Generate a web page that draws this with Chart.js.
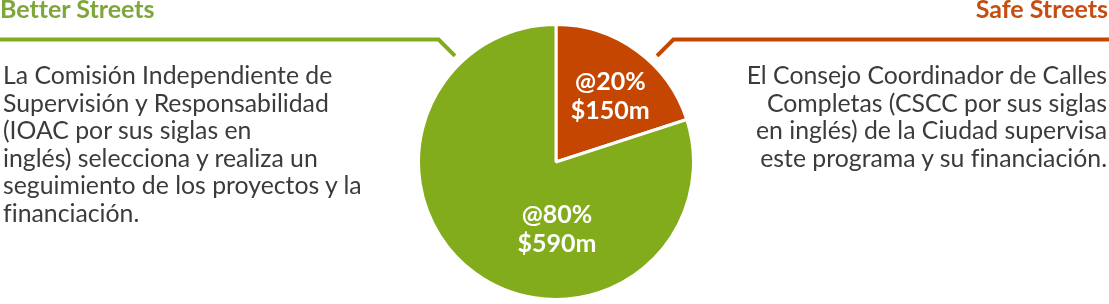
<!DOCTYPE html>
<html><head><meta charset="utf-8">
<script src="https://cdn.jsdelivr.net/npm/chart.js@4.4.1/dist/chart.umd.min.js"></script>
<style>
html,body{margin:0;padding:0;background:#fff;}
#wrap{position:relative;width:1109px;height:304px;overflow:hidden;font-family:Lato,"Open Sans",sans-serif;font-variant-ligatures:none;}
canvas{position:absolute;left:0;top:0;}
.title{position:absolute;top:-5px;font-weight:700;font-size:25px;line-height:26px;white-space:nowrap;}
.para{position:absolute;top:61px;font-size:24.8px;line-height:27.6px;color:#3b3b3b;white-space:nowrap;}
.slice{position:absolute;color:#fff;font-weight:700;font-size:25px;line-height:29px;text-align:center;transform:translate(-50%,-50%);white-space:nowrap;}
</style></head>
<body><div id="wrap"><canvas id="c" width="1109" height="304"></canvas>
<div class="title" id="tLeft" style="left:0px;"></div>
<div class="title" id="tRight" style="right:1px;"></div>
<div class="para" style="left:3px;text-align:left;">La Comisión Independiente de<br>Supervisión y Responsabilidad<br>(IOAC por sus siglas en<br>inglés) selecciona y realiza un<br>seguimiento de los proyectos y la<br>financiación.</div>
<div class="para" style="right:2px;text-align:right;">El Consejo Coordinador de Calles<br>Completas (CSCC por sus siglas<br>en inglés) de la Ciudad supervisa<br>este programa y su financiación.</div>
<div class="slice" id="lab0"></div>
<div class="slice" id="lab1"></div>
</div>
<script>
// Data
const categories = ['Safe Streets', 'Better Streets'];
const shares = [20, 80];          // percent
const amounts = [150, 590];       // $ millions
const sliceColors = ['#c54600', '#83ac1c'];
const titleColors = ['#c64d12', '#7ea63b'];

document.getElementById('tRight').textContent = categories[0];
document.getElementById('tRight').style.color = titleColors[0];
document.getElementById('tLeft').textContent = categories[1];
document.getElementById('tLeft').style.color = titleColors[1];

const connectors = {
  id: 'connectors',
  afterDatasetsDraw(chart) {
    const meta = chart.getDatasetMeta(0);
    const arc = meta.data[0];
    const p = arc.getProps(['x', 'y', 'outerRadius'], true);
    const ctx = chart.ctx;
    const d = p.outerRadius + 9;
    const a = 43.6 * Math.PI / 180;
    const by = 39.5;
    const sides = [{s: 1, color: sliceColors[0], end: chart.width}, {s: -1, color: sliceColors[1], end: 0}];
    ctx.save();
    ctx.lineWidth = 4;
    ctx.lineJoin = 'miter';
    sides.forEach(o => {
      const ex = p.x + o.s * Math.sin(a) * d;
      const ey = p.y - Math.cos(a) * d;
      const bx = ex + o.s * (ey - by);
      ctx.strokeStyle = o.color;
      ctx.beginPath();
      ctx.moveTo(ex, ey);
      ctx.lineTo(bx, by);
      ctx.lineTo(o.end, by);
      ctx.stroke();
    });
    ctx.restore();
  }
};

const chart = new Chart(document.getElementById('c'), {
  type: 'pie',
  data: {
    labels: categories,
    datasets: [{
      data: shares,
      backgroundColor: sliceColors,
      borderColor: '#ffffff',
      borderWidth: 3,
      hoverOffset: 0,
      hoverBorderWidth: 3
    }]
  },
  options: {
    responsive: false,
    animation: false,
    devicePixelRatio: 1,
    events: [],
    layout: {padding: {top: 23, bottom: 3, left: 3, right: 0}},
    plugins: {legend: {display: false}, tooltip: {enabled: false}}
  },
  plugins: [connectors]
});

// slice labels positioned from arc geometry
const meta = chart.getDatasetMeta(0);
meta.data.forEach((arc, i) => {
  const p = arc.getProps(['x', 'y', 'startAngle', 'endAngle', 'outerRadius'], true);
  let lx, ly;
  if (i === 0) {
    const mid = (p.startAngle + p.endAngle) / 2 + 0.05;
    lx = p.x + Math.cos(mid) * p.outerRadius * 0.63;
    ly = p.y + Math.sin(mid) * p.outerRadius * 0.63;
  } else {
    lx = p.x + 1;
    ly = p.y + p.outerRadius * 0.48;
  }
  const el = document.getElementById('lab' + i);
  el.innerHTML = '@' + shares[i] + '%<br>$' + amounts[i] + 'm';
  el.style.left = lx + 'px';
  el.style.top = ly + 'px';
});
</script>
</body></html>
